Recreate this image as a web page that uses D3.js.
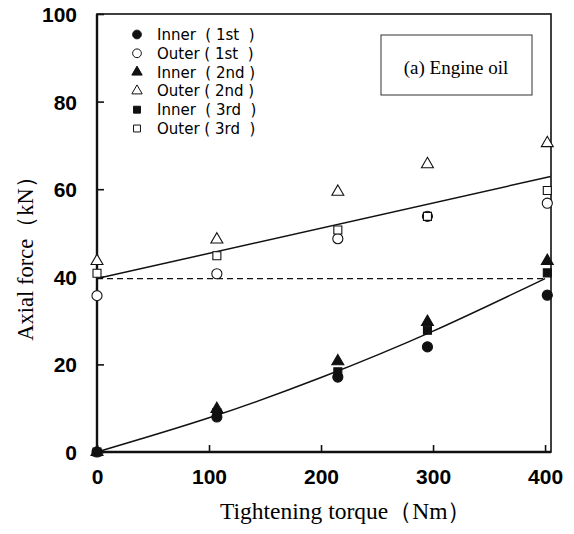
<!DOCTYPE html>
<html>
<head>
<meta charset="utf-8">
<script src="https://cdn.jsdelivr.net/npm/d3@7"></script>
<style>
  body { margin: 0; background: #fff; }
  svg { display: block; }
</style>
</head>
<body>
<script>
'use strict';

// torque values where the bolts were measured (Nm)
const torques = [0, 107, 215, 295, 402];

// axial force readings (kN), one array per series
const inner1st = [0, 8.0, 17.1, 24.0, 35.8];
const outer1st = [35.7, 40.7, 48.7, 53.8, 56.8];
const inner2nd = [0, 9.8, 20.7, 29.7, 43.6];
const outer2nd = [43.6, 48.5, 59.4, 65.7, 70.5];
const inner3rd = [0, 9.0, 18.3, 27.8, 40.9];
const outer3rd = [40.8, 44.8, 50.7, 53.8, 59.7];

const seriesNames = ["Inner  ( 1st  )", "Outer ( 1st  )", "Inner  ( 2nd )",
                     "Outer ( 2nd )", "Inner  ( 3rd  )", "Outer ( 3rd  )"];

// trend lines
const outerFitT = [0, 405];
const outerFitV = [39.6, 62.9];
const innerFitT = [0, 100, 200, 300, 400];
const innerFitV = [0, 7.8, 17.0, 27.6, 39.6];
const initialT = [0, 400];
const initialV = [39.6, 39.6];

const xTicks = [0, 100, 200, 300, 400];
const yTicks = [0, 20, 40, 60, 80, 100];

(function() {

  const width = 574, height = 534;
  const plotLeft = 97, plotRight = 551, plotTop = 14, plotBottom = 452;

  let svg = d3.select('body').append('svg')
    .attr('width', width)
    .attr('height', height);

  let x = d3.scaleLinear().domain([0, 405.3]).range([plotLeft, plotRight]);
  let y = d3.scaleLinear().domain([0, 100]).range([plotBottom, plotTop]);

  // frame
  svg.append('rect')
    .attr('x', plotLeft).attr('y', plotTop)
    .attr('width', plotRight - plotLeft).attr('height', plotBottom - plotTop)
    .attr('fill', 'none').attr('stroke', '#111').attr('stroke-width', 1.6);
  // heavier left and bottom axis lines
  svg.append('line').attr('x1', plotLeft).attr('x2', plotLeft).attr('y1', plotTop).attr('y2', plotBottom)
    .attr('stroke', '#111').attr('stroke-width', 2.4);
  svg.append('line').attr('x1', plotLeft).attr('x2', plotRight).attr('y1', plotBottom).attr('y2', plotBottom)
    .attr('stroke', '#111').attr('stroke-width', 2.4);

  // axes with inward ticks
  let xAxis = svg.append('g')
    .attr('transform', `translate(0, ${plotBottom})`)
    .call(d3.axisBottom(x).tickValues(xTicks).tickSizeInner(-7).tickSizeOuter(0).tickPadding(17));
  let yAxis = svg.append('g')
    .attr('transform', `translate(${plotLeft}, 0)`)
    .call(d3.axisLeft(y).tickValues(yTicks).tickSizeInner(-7).tickSizeOuter(0).tickPadding(20));

  [xAxis, yAxis].forEach((g) => {
    g.select('.domain').remove();
    g.selectAll('.tick line').attr('stroke', '#111').attr('stroke-width', 1.6);
    g.selectAll('.tick text')
      .attr('fill', '#000')
      .style('font-family', '"Liberation Sans", Arial, sans-serif')
      .style('font-weight', 'bold')
      .style('font-size', '21px');
  });
  yAxis.selectAll('.tick text').attr('dy', '0.36em');

  // trend lines
  let line = d3.line().x((d) => x(d[0])).y((d) => y(d[1]));
  svg.append('path')
    .datum(initialT.map((t, i) => [t, initialV[i]]))
    .attr('d', line)
    .attr('fill', 'none').attr('stroke', '#111').attr('stroke-width', 1.3)
    .attr('stroke-dasharray', '6,4');
  svg.append('path')
    .datum(outerFitT.map((t, i) => [t, outerFitV[i]]))
    .attr('d', line)
    .attr('fill', 'none').attr('stroke', '#111').attr('stroke-width', 1.5);
  svg.append('path')
    .datum(innerFitT.map((t, i) => [t, innerFitV[i]]))
    .attr('d', line.curve(d3.curveNatural))
    .attr('fill', 'none').attr('stroke', '#111').attr('stroke-width', 1.5);

  // marker shapes
  const shapes = [d3.symbolCircle, d3.symbolCircle, d3.symbolTriangle,
                  d3.symbolTriangle, d3.symbolSquare, d3.symbolSquare];
  const sizes = [80, 80, 62, 62, 64, 64];
  const filled = [true, false, true, false, true, false];
  const allSeries = [inner1st, outer1st, inner2nd, outer2nd, inner3rd, outer3rd];

  allSeries.forEach((vals, i) => {
    svg.append('g').selectAll('path')
      .data(vals)
      .enter()
      .append('path')
        .attr('d', d3.symbol().type(shapes[i]).size(sizes[i])())
        .attr('transform', (d, j) => `translate(${x(torques[j])}, ${y(d)})`)
        .attr('fill', filled[i] ? '#111' : '#fff')
        .attr('stroke', '#111')
        .attr('stroke-width', 1.1);
  });

  // legend
  let legend = svg.append('g');
  seriesNames.forEach((name, i) => {
    let ly = 34.5 + i * 18.8;
    legend.append('path')
      .attr('d', d3.symbol().type(shapes[i]).size(sizes[i] * 0.75)())
      .attr('transform', `translate(137, ${ly})`)
      .attr('fill', filled[i] ? '#111' : '#fff')
      .attr('stroke', '#111')
      .attr('stroke-width', 1);
    legend.append('text')
      .attr('x', 157)
      .attr('y', ly)
      .attr('dy', '0.36em')
      .style('white-space', 'pre')
      .style('font-family', '"DejaVu Sans", sans-serif')
      .style('font-size', '15px')
      .text(name);
  });

  // annotation box
  svg.append('rect')
    .attr('x', 381).attr('y', 35)
    .attr('width', 151).attr('height', 60)
    .attr('fill', '#fff').attr('stroke', '#333').attr('stroke-width', 1);
  svg.append('text')
    .attr('x', 456).attr('y', 74)
    .attr('text-anchor', 'middle')
    .style('font-family', '"Liberation Serif", "Times New Roman", serif')
    .style('font-size', '19px')
    .text('(a) Engine oil');

  // axis titles
  svg.append('text')
    .attr('x', 220).attr('y', 519)
    .style('font-family', '"Liberation Serif", "Times New Roman", serif')
    .style('font-size', '23.5px')
    .text('Tightening torque（Nm）');

  svg.append('text')
    .attr('transform', 'translate(33, 253) rotate(-90)')
    .attr('text-anchor', 'middle')
    .style('font-family', '"Liberation Serif", "Times New Roman", serif')
    .style('font-size', '22.5px')
    .text('Axial force（kN）');

})();
</script>
</body>
</html>
